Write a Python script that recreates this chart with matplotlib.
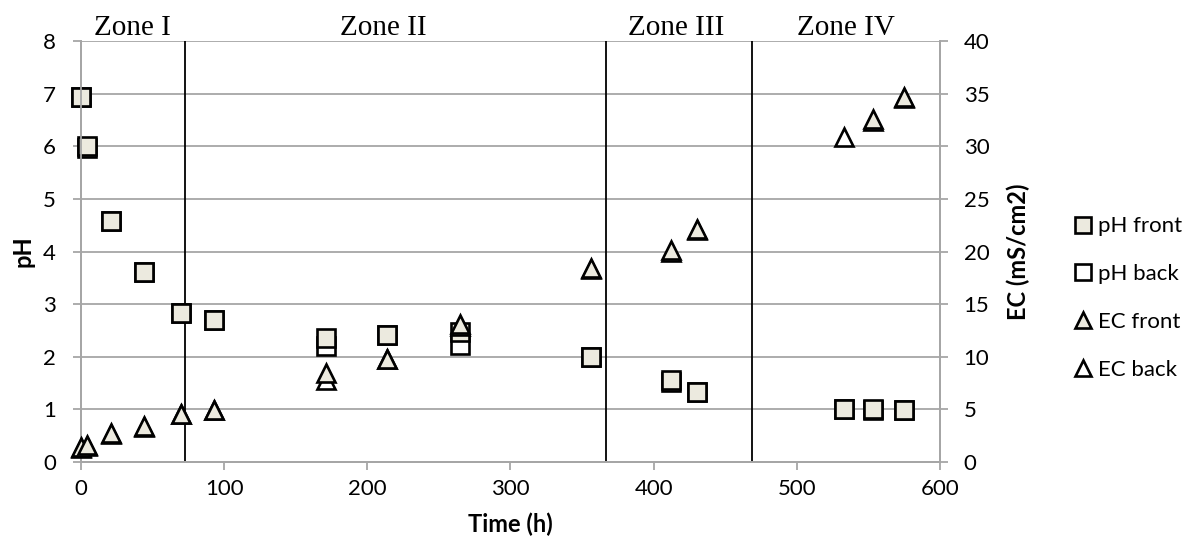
import matplotlib
matplotlib.use("Agg")
import matplotlib.pyplot as plt
from matplotlib.lines import Line2D
import numpy as np

plt.rcParams['font.family'] = ['Lato', 'DejaVu Sans']

# data
time_h = [0, 4, 21, 44, 70, 93, 171, 214, 265, 356, 412, 430, 533, 553, 575]
ph_front = [6.93, 6.0, 4.58, 3.62, 2.83, 2.70, 2.35, 2.41, 2.47, 2.0, 1.56, 1.33, 1.0, 1.0, 0.98]
ph_back = [6.93, 5.96, 4.58, 3.62, 2.83, 2.70, 2.20, 2.41, 2.22, 2.0, 1.52, 1.33, 1.0, 0.98, 0.98]
ec_front = [1.4, 1.6, 2.75, 3.4, 4.6, 4.95, 8.5, 9.8, 13.1, 18.4, 20.1, 22.1, np.nan, 32.6, 34.7]
ec_back = [1.35, 1.5, 2.7, 3.35, 4.55, 4.9, 7.8, 9.8, 12.9, 18.3, 20.0, 22.0, 30.9, 32.4, 34.6]

zone_edges = [72.7, 367, 469]
zone_names = ["Zone I", "Zone II", "Zone III", "Zone IV"]
zone_centers = [36, 211, 416, 534]

beige = '#ECEADF'
grey = '#A6A6A6'

fig = plt.figure(figsize=(11.94, 5.48), dpi=100)
ax = fig.add_axes([0.0678, 0.157, 0.7195, 0.768])
ax2 = ax.twinx()

mk = dict(linestyle='none', markersize=13, markeredgewidth=1.9, markeredgecolor='black')

ax.plot(time_h, ph_back, marker='s', markerfacecolor='white', zorder=3, clip_on=False, **mk)
ax.plot(time_h, ph_front, marker='s', markerfacecolor=beige, zorder=4, clip_on=False, **mk)
ax2.plot(time_h, ec_back, marker='^', markerfacecolor='white', zorder=3, clip_on=False, **mk)
ax2.plot(time_h, ec_front, marker='^', markerfacecolor=beige, zorder=4, clip_on=False, **mk)

for xe in zone_edges:
    ax.axvline(xe, color='black', lw=1.3, zorder=2)

ax.set_xlim(0, 600)
ax.set_ylim(0, 8)
ax2.set_ylim(0, 40)
ax.set_xticks(np.arange(0, 601, 100))
ax.set_yticks(np.arange(0, 9, 1))
ax2.set_yticks(np.arange(0, 41, 5))

ax.grid(axis='y', color=grey, lw=1.3, zorder=0)
ax.set_axisbelow(True)

for a in (ax, ax2):
    for s in a.spines.values():
        s.set_color(grey)
        s.set_linewidth(1.3)
    a.spines['top'].set_visible(False)
    a.tick_params(axis='both', direction='out', length=6, width=1.3, color=grey,
                  labelsize=16)
ax.tick_params(axis='y', pad=12)
ax.tick_params(axis='x', pad=6)
ax2.tick_params(axis='y', pad=11)

ax.set_xlabel('Time (h)', fontsize=17, fontweight='bold', labelpad=10)
ax.set_ylabel('pH', fontsize=17, fontweight='bold', labelpad=6)
ax2.set_ylabel('EC (mS/cm2)', fontsize=17, fontweight='bold', labelpad=12)

for name, xc in zip(zone_names, zone_centers):
    ax.text(xc, 1.015, name, transform=ax.get_xaxis_transform(), ha='center',
            va='baseline', fontsize=21, family='Liberation Serif')

handles = [
    Line2D([], [], marker='s', markerfacecolor=beige, **mk),
    Line2D([], [], marker='s', markerfacecolor='white', **mk),
    Line2D([], [], marker='^', markerfacecolor=beige, **mk),
    Line2D([], [], marker='^', markerfacecolor='white', **mk),
]
labels = ['pH front', 'pH back', 'EC front', 'EC back']
fig.legend(handles, labels, loc='center left', bbox_to_anchor=(0.8827, 0.456),
           frameon=False, fontsize=16, markerscale=0.85, handlelength=0.8,
           handletextpad=0.3, labelspacing=1.25)

fig.savefig('out.png', dpi=100)
